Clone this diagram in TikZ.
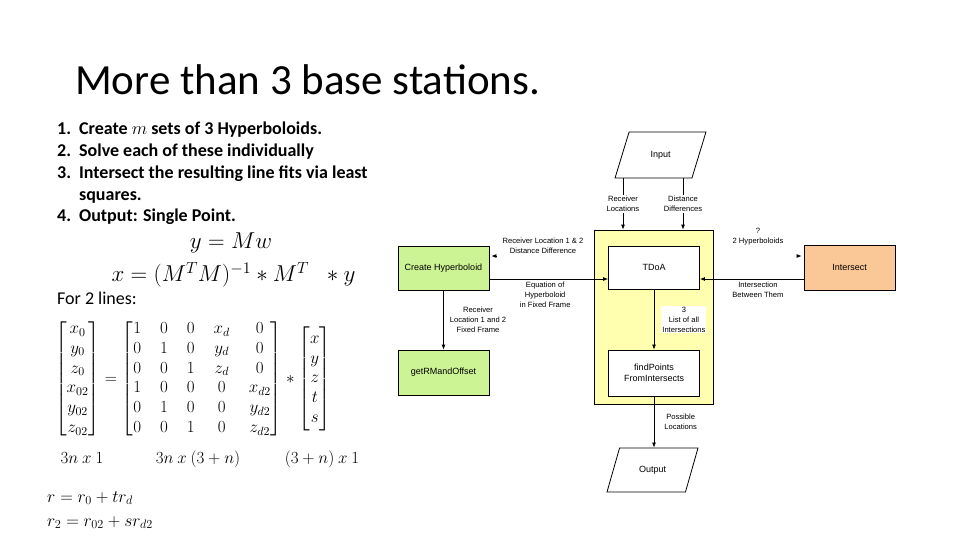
\RequirePackage{fix-cm}
\documentclass[tikz,border=0pt]{standalone}
\usepackage{amsmath}
\usepackage{fontspec}
\setmainfont{Carlito}
\newfontfamily\flowfont{Liberation Sans}
\usetikzlibrary{positioning, arrows.meta, shapes.geometric}

\definecolor{boxgreen}{HTML}{CCF495}
\definecolor{boxorange}{HTML}{FAC897}
\definecolor{panelyellow}{HTML}{FFFFAF}

\begin{document}
\begin{tikzpicture}[x=1pt, y=-1pt,
    box/.style={draw, line width=0.8pt, minimum width=91pt, minimum height=44pt,
      align=center, font=\flowfont\fontsize{9}{11}\selectfont},
    io/.style={trapezium, trapezium stretches=true, trapezium left angle=68,
      trapezium right angle=112, draw, line width=0.8pt, minimum width=91pt,
      minimum height=46pt, font=\flowfont\fontsize{9}{11}\selectfont},
    lbl/.style={align=center, inner sep=1pt, font=\flowfont\fontsize{7.6}{10}\selectfont},
    arr/.style={line width=0.8pt, -{Latex[length=5pt,width=4pt]}}]
    \useasboundingbox (0,0) rectangle (960,540);

    % left half: title, steps and the least squares fit
    \node[anchor=base west, inner sep=0, font=\fontsize{43}{50}\selectfont] (title) at (75,95) {More than 3 base stations.};
    \node[anchor=base west, inner sep=0, font=\bfseries\fontsize{18}{21.7}\selectfont] (steps) at (57,135)
      {\begin{tabular}[t]{@{}l@{\hspace{8pt}}l@{}}
        1. & Create $m$ sets of 3 Hyperboloids.\\
        2. & Solve each of these individually\\
        3. & Intersect the resulting line fits via least\\
           & squares.\\
        4. & Output: Single Point.
      \end{tabular}};
    \node[font=\fontsize{23}{27}\selectfont] (ymw) at (231,243) {$y = Mw$};
    \node[anchor=west, font=\fontsize{23}{27}\selectfont] (xsol) at (108,275) {$x = (M^TM)^{-1} * M^T \;\; * y$};
    \node[anchor=base west, inner sep=0, font=\fontsize{18}{21}\selectfont] (forlines) at (57,304) {For 2 lines:};
    \node[anchor=west, inner sep=0, font=\fontsize{17}{19.8}\selectfont] (mateq) at (55,379)
      {$\setlength{\arraycolsep}{9.5pt}
        \begin{bmatrix} x_0\\ y_0\\ z_0\\ x_{02}\\ y_{02}\\ z_{02} \end{bmatrix}
        = \begin{bmatrix}
          1 & 0 & 0 & x_d & 0\\
          0 & 1 & 0 & y_d & 0\\
          0 & 0 & 1 & z_d & 0\\
          1 & 0 & 0 & 0 & x_{d2}\\
          0 & 1 & 0 & 0 & y_{d2}\\
          0 & 0 & 1 & 0 & z_{d2}
        \end{bmatrix} *
        \begin{bmatrix} x\\ y\\ z\\ t\\ s \end{bmatrix}$};
    \node[anchor=base, font=\fontsize{17}{20}\selectfont] (dimA) at (82,463) {$3n\ x\ 1$};
    \node[anchor=base, font=\fontsize{17}{20}\selectfont] (dimB) at (198,463) {$3n\ x\ (3+n)$};
    \node[anchor=base, font=\fontsize{17}{20}\selectfont] (dimC) at (322,463) {$(3+n)\ x\ 1$};
    \node[anchor=west, inner sep=0, align=left, font=\fontsize{17.5}{24}\selectfont] (rline) at (47,510)
      {$r = r_0 + tr_d$\\ $r_2 = r_{02} + sr_{d2}$};

    % flowchart
    \node[draw, line width=0.8pt, fill=panelyellow, minimum width=119pt, minimum height=174pt] (panel) at (653.5,317) {};
    \node[box, fill=white, minimum height=43pt] (tdoa) at (654,267.5) {TDoA};
    \node[box, fill=white, minimum height=46pt] (findpts) at (654,373) {findPoints\\FromIntersects};
    \node[box, fill=boxgreen] (create) at (443.5,268) {Create Hyperboloid};
    \node[box, fill=boxgreen, minimum height=45pt] (getrm) at (443.5,372.5) {getRMandOffset};
    \node[box, fill=boxorange, minimum height=45pt] (intersect) at (849.5,267.5) {Intersect};
    \node[io] (input) at (660.5,155) {Input};
    \node[io, minimum height=44pt, trapezium left angle=66.6, trapezium right angle=113.4] (output) at (652.5,470) {Output};

    \draw[arr] ([xshift=-37.5pt]input.south) -- ([xshift=-37.5pt]input.south |- panel.north)
      node[lbl, fill=white, midway] {Receiver\\Locations};
    \draw[arr] ([xshift=22.5pt]input.south) -- ([xshift=22.5pt]input.south |- panel.north)
      node[lbl, fill=white, midway] {Distance\\Differences};
    \draw[arr] ([yshift=-11pt]create.east) -- ([yshift=-11pt]create.east -| tdoa.west)
      node[lbl, below=2pt, pos=0.47] {Equation of\\Hyperboloid\\in Fixed Frame};
    \draw[arr] ([yshift=-11.5pt]intersect.west) -- ([yshift=-11.5pt]intersect.west -| tdoa.east)
      node[lbl, below=2pt, pos=0.44] {Intersection\\Between Them};
    \draw[arr] (create) -- (getrm)
      node[lbl, right=5pt, midway] {Receiver\\Location 1 and 2\\Fixed Frame};
    \draw[arr] (tdoa) -- (findpts)
      node[lbl, fill=white, right=7pt, midway] {3\\List of all\\Intersections};
    \draw[arr] (findpts.south) -- (findpts.south |- output.north)
      node[lbl, right=9pt, midway] {Possible\\Locations};

    % tips only, the lines are not drawn
    \coordinate (backA) at ([shift={(7pt,12pt)}]create.east);
    \coordinate (backB) at ([shift={(-7pt,11.5pt)}]intersect.west);
    \draw[arr] (backA) -- ([shift={(2pt,12pt)}]create.east);
    \draw[arr] (backB) -- ([shift={(-2pt,11.5pt)}]intersect.west);
    \node[lbl] (backAtext) at (543,246) {Receiver Location 1 \& 2\\Distance Difference};
    \node[lbl] (backBtext) at (758,237) {?\\2 Hyperboloids};
\end{tikzpicture}
\end{document}
